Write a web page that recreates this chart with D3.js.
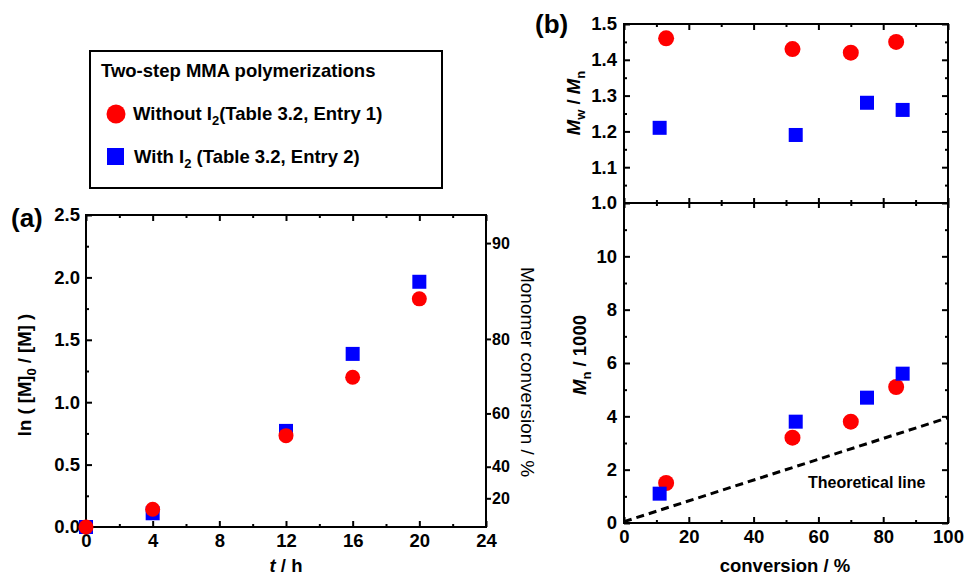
<!DOCTYPE html>
<html><head><meta charset="utf-8">
<script src="https://cdn.jsdelivr.net/npm/d3@7"></script>
<style>body{margin:0;background:#fff;} svg{display:block;font-family:"Liberation Sans",Arial,sans-serif;}</style>
</head><body><svg id="c" width="965" height="579"></svg>
<script>
// ---------- data ----------
const timeH = [0, 4, 12, 16, 20];
const lnWithout = [0.0, 0.142, 0.732, 1.20, 1.828];
const lnWith = [0.0, 0.11, 0.77, 1.387, 1.965];
const convTickLabels = [20, 40, 60, 80, 90];
const convTickLn = [0.23, 0.483, 0.91, 1.507, 2.275];
const timeTicks = [0, 4, 8, 12, 16, 20, 24];
const timeMinor = [2, 6, 10, 14, 18, 22];
const lnTicks = [0, 0.5, 1.0, 1.5, 2.0, 2.5];
const lnMinor = [0.25, 0.75, 1.25, 1.75, 2.25];

const convWithout = [13, 52, 70, 84];
const pdiWithout = [1.46, 1.43, 1.42, 1.45];
const mnWithout = [1.5, 3.2, 3.8, 5.1];
const convWith = [11, 53, 75, 86];
const pdiWith = [1.21, 1.19, 1.28, 1.26];
const mnWith = [1.1, 3.8, 4.7, 5.6];
const theoConv = [0, 100];
const theoMn = [0.05, 3.95];
const convTicks = [0, 20, 40, 60, 80, 100];
const convMinor = [10, 30, 50, 70, 90];
const pdiTicks = [1.0, 1.1, 1.2, 1.3, 1.4, 1.5];
const pdiMinor = [1.05, 1.15, 1.25, 1.35, 1.45];
const mnTicks = [0, 2, 4, 6, 8, 10];
const mnMinor = [1, 3, 5, 7, 9, 11];

const RED = "#ff0000", BLUE = "#0000ff";
const FS = 18.5;

const svg = d3.select("#c");

// ---------- scales ----------
const xa = d3.scaleLinear().domain([0, 24]).range([86, 486]);
const ya = d3.scaleLinear().domain([0, 2.5]).range([527, 215]);
const xb = d3.scaleLinear().domain([0, 100]).range([624, 948]);
const yb1 = d3.scaleLinear().domain([1.0, 1.5]).range([203, 24]);
const yb2 = d3.scaleLinear().domain([0, 12]).range([523, 203]);

function styleAxis(g, fs) {
  g.select(".domain").remove();
  g.selectAll("line").attr("stroke", "#000").attr("stroke-width", 2);
  g.selectAll("text").attr("font-size", fs).attr("font-weight", "bold").attr("fill", "#000")
    .attr("font-family", "'Liberation Sans', Arial, sans-serif");
}
function axis(gen, transform, fs) {
  const g = svg.append("g").attr("transform", transform).call(gen);
  styleAxis(g, fs || FS);
  return g;
}
function frame(x, y) {
  svg.append("rect").attr("x", x.range()[0]).attr("y", y.range()[1])
    .attr("width", x.range()[1] - x.range()[0]).attr("height", y.range()[0] - y.range()[1])
    .attr("fill", "none").attr("stroke", "#000").attr("stroke-width", 2);
}
function noFmt() { return ""; }

// ---------- panel (a) ----------
frame(xa, ya);
axis(d3.axisBottom(xa).tickValues(timeTicks).tickSizeInner(-6).tickSizeOuter(0).tickPadding(7).tickFormat(d3.format("d")), `translate(0,${ya(0)})`);
axis(d3.axisBottom(xa).tickValues(timeMinor).tickSizeInner(-3).tickSizeOuter(0).tickFormat(noFmt), `translate(0,${ya(0)})`);
axis(d3.axisTop(xa).tickValues(timeTicks).tickSizeInner(-6).tickSizeOuter(0).tickFormat(noFmt), `translate(0,${ya(2.5)})`);
axis(d3.axisTop(xa).tickValues(timeMinor).tickSizeInner(-3).tickSizeOuter(0).tickFormat(noFmt), `translate(0,${ya(2.5)})`);
axis(d3.axisLeft(ya).tickValues(lnTicks).tickSizeInner(-6).tickSizeOuter(0).tickPadding(6).tickFormat(d3.format(".1f")), `translate(${xa(0)},0)`);
axis(d3.axisLeft(ya).tickValues(lnMinor).tickSizeInner(-3).tickSizeOuter(0).tickFormat(noFmt), `translate(${xa(0)},0)`);
axis(d3.axisRight(ya).tickValues(convTickLn).tickSizeInner(5).tickSizeOuter(0).tickPadding(1)
  .tickFormat((d, i) => convTickLabels[i]), `translate(${xa(24)},0)`, 16);

// markers (a)
svg.append("g").selectAll("rect").data(timeH).join("rect")
  .attr("x", (d) => xa(d) - 7).attr("y", (d, i) => ya(lnWith[i]) - 7)
  .attr("width", 14).attr("height", 14).attr("fill", BLUE);
svg.append("g").selectAll("circle").data(timeH).join("circle")
  .attr("cx", (d) => xa(d)).attr("cy", (d, i) => ya(lnWithout[i]))
  .attr("r", 7.5).attr("fill", RED);

// labels (a)
svg.append("text").attr("x", 11).attr("y", 227).attr("font-size", 26).attr("font-weight", "bold").text("(a)");
const yla = svg.append("text").attr("transform", `translate(31,${(ya(0) + ya(2.5)) / 2 + 4}) rotate(-90)`)
  .attr("text-anchor", "middle").attr("font-size", FS).attr("font-weight", "bold");
yla.append("tspan").text("ln ( [M]");
yla.append("tspan").attr("font-size", 13).attr("dy", 5).text("0");
yla.append("tspan").attr("dy", -5).text(" / [M] )");
const xla = svg.append("text").attr("x", (xa(0) + xa(24)) / 2).attr("y", 572)
  .attr("text-anchor", "middle").attr("font-size", FS).attr("font-weight", "bold");
xla.append("tspan").attr("font-style", "italic").text("t");
xla.append("tspan").text(" / h");
svg.append("text").attr("transform", `translate(521,372) rotate(90)`)
  .attr("text-anchor", "middle").attr("font-size", 19).text("Monomer conversion / %");

// ---------- panel (b) ----------
frame(xb, yb1);
frame(xb, yb2);
// top panel ticks
axis(d3.axisTop(xb).tickValues(convTicks).tickSizeInner(-6).tickSizeOuter(0).tickFormat(noFmt), `translate(0,${yb1(1.5)})`);
axis(d3.axisTop(xb).tickValues(convMinor).tickSizeInner(-3).tickSizeOuter(0).tickFormat(noFmt), `translate(0,${yb1(1.5)})`);
axis(d3.axisBottom(xb).tickValues(convTicks).tickSizeInner(-5).tickSizeOuter(0).tickFormat(noFmt), `translate(0,${yb1(1.0)})`);
axis(d3.axisBottom(xb).tickValues(convMinor).tickSizeInner(-3).tickSizeOuter(0).tickFormat(noFmt), `translate(0,${yb1(1.0)})`);
axis(d3.axisLeft(yb1).tickValues(pdiTicks).tickSizeInner(-6).tickSizeOuter(0).tickPadding(7).tickFormat(d3.format(".1f")), `translate(${xb(0)},0)`);
axis(d3.axisLeft(yb1).tickValues(pdiMinor).tickSizeInner(-3).tickSizeOuter(0).tickFormat(noFmt), `translate(${xb(0)},0)`);
axis(d3.axisRight(yb1).tickValues(pdiTicks).tickSizeInner(-6).tickSizeOuter(0).tickFormat(noFmt), `translate(${xb(100)},0)`);
axis(d3.axisRight(yb1).tickValues(pdiMinor).tickSizeInner(-3).tickSizeOuter(0).tickFormat(noFmt), `translate(${xb(100)},0)`);
// lower panel ticks
axis(d3.axisTop(xb).tickValues(convTicks).tickSizeInner(-5).tickSizeOuter(0).tickFormat(noFmt), `translate(0,${yb2(12)})`);
axis(d3.axisTop(xb).tickValues(convMinor).tickSizeInner(-3).tickSizeOuter(0).tickFormat(noFmt), `translate(0,${yb2(12)})`);
axis(d3.axisBottom(xb).tickValues(convTicks).tickSizeInner(-6).tickSizeOuter(0).tickPadding(7).tickFormat(d3.format("d")), `translate(0,${yb2(0)})`);
axis(d3.axisBottom(xb).tickValues(convMinor).tickSizeInner(-3).tickSizeOuter(0).tickFormat(noFmt), `translate(0,${yb2(0)})`);
axis(d3.axisLeft(yb2).tickValues(mnTicks).tickSizeInner(-6).tickSizeOuter(0).tickPadding(7).tickFormat(d3.format("d")), `translate(${xb(0)},0)`);
axis(d3.axisLeft(yb2).tickValues(mnMinor).tickSizeInner(-3).tickSizeOuter(0).tickFormat(noFmt), `translate(${xb(0)},0)`);
axis(d3.axisRight(yb2).tickValues(mnTicks).tickSizeInner(-6).tickSizeOuter(0).tickFormat(noFmt), `translate(${xb(100)},0)`);
axis(d3.axisRight(yb2).tickValues(mnMinor).tickSizeInner(-3).tickSizeOuter(0).tickFormat(noFmt), `translate(${xb(100)},0)`);

// theoretical line
const theoLine = d3.line().x((d) => xb(d[0])).y((d) => yb2(d[1]));
svg.append("path").datum(theoConv.map((c, i) => [c, theoMn[i]]))
  .attr("d", theoLine).attr("fill", "none").attr("stroke", "#000")
  .attr("stroke-width", 3).attr("stroke-dasharray", "8,5");
svg.append("text").attr("x", 808).attr("y", 488).attr("font-size", 16).attr("font-weight", "bold").text("Theoretical line");

// markers (b)
svg.append("g").selectAll("rect").data(convWith).join("rect")
  .attr("x", (d) => xb(d) - 7).attr("y", (d, i) => yb1(pdiWith[i]) - 7)
  .attr("width", 14).attr("height", 14).attr("fill", BLUE);
svg.append("g").selectAll("circle").data(convWithout).join("circle")
  .attr("cx", (d) => xb(d)).attr("cy", (d, i) => yb1(pdiWithout[i]))
  .attr("r", 8).attr("fill", RED);
svg.append("g").selectAll("circle").data(convWithout).join("circle")
  .attr("cx", (d) => xb(d)).attr("cy", (d, i) => yb2(mnWithout[i]))
  .attr("r", 8).attr("fill", RED);
svg.append("g").selectAll("rect").data(convWith).join("rect")
  .attr("x", (d) => xb(d) - 7).attr("y", (d, i) => yb2(mnWith[i]) - 7)
  .attr("width", 14).attr("height", 14).attr("fill", BLUE);

// labels (b)
svg.append("text").attr("x", 535).attr("y", 33).attr("font-size", 26).attr("font-weight", "bold").text("(b)");
const ylb1 = svg.append("text").attr("transform", `translate(580,103) rotate(-90)`)
  .attr("text-anchor", "middle").attr("font-size", FS).attr("font-weight", "bold");
ylb1.append("tspan").attr("font-style", "italic").text("M");
ylb1.append("tspan").attr("font-size", 13).attr("dy", 5).text("w");
ylb1.append("tspan").attr("dy", -5).text(" / ");
ylb1.append("tspan").attr("font-style", "italic").text("M");
ylb1.append("tspan").attr("font-size", 13).attr("dy", 5).text("n");
const ylb2 = svg.append("text").attr("transform", `translate(586,355) rotate(-90)`)
  .attr("text-anchor", "middle").attr("font-size", FS).attr("font-weight", "bold");
ylb2.append("tspan").attr("font-style", "italic").text("M");
ylb2.append("tspan").attr("font-size", 13).attr("dy", 5).text("n");
ylb2.append("tspan").attr("dy", -5).text(" / 1000");
svg.append("text").attr("x", 785).attr("y", 572).attr("text-anchor", "middle")
  .attr("font-size", FS).attr("font-weight", "bold").text("conversion / %");

// ---------- legend ----------
svg.append("rect").attr("x", 90).attr("y", 51).attr("width", 352).attr("height", 137)
  .attr("fill", "#fff").attr("stroke", "#000").attr("stroke-width", 2);
svg.append("text").attr("x", 101).attr("y", 77).attr("font-size", FS).attr("font-weight", "bold").text("Two-step MMA polymerizations");
svg.append("circle").attr("cx", 116).attr("cy", 114).attr("r", 9.5).attr("fill", RED);
const l1 = svg.append("text").attr("x", 133).attr("y", 120).attr("font-size", FS).attr("font-weight", "bold");
l1.append("tspan").text("Without I");
l1.append("tspan").attr("font-size", 13).attr("dy", 5).text("2");
l1.append("tspan").attr("dy", -5).text("(Table 3.2, Entry 1)");
svg.append("rect").attr("x", 107).attr("y", 148).attr("width", 17).attr("height", 17).attr("fill", BLUE);
const l2 = svg.append("text").attr("x", 134).attr("y", 163).attr("font-size", FS).attr("font-weight", "bold");
l2.append("tspan").text("With I");
l2.append("tspan").attr("font-size", 13).attr("dy", 5).text("2");
l2.append("tspan").attr("dy", -5).text(" (Table 3.2, Entry 2)");
</script></body></html>
